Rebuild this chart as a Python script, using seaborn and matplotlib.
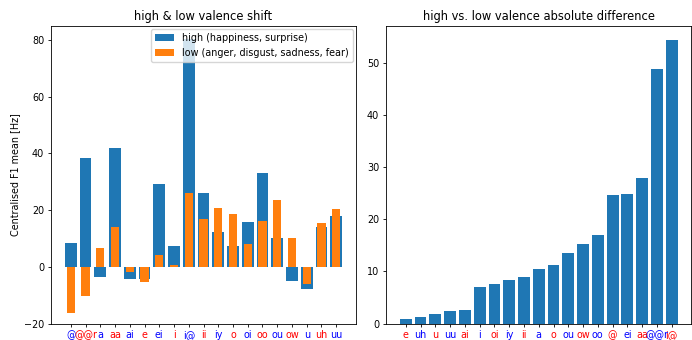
import matplotlib
matplotlib.use("Agg")
import matplotlib.pyplot as plt
import seaborn as sns
import numpy as np
import pandas as pd

vowels = ["@", "@@r", "a", "aa", "ai", "e", "ei", "i", "i@", "ii", "iy",
          "o", "oi", "oo", "ou", "ow", "u", "uh", "uu"]
high = [8.5, 38.3, -3.7, 42.0, -4.4, -4.4, 29.1, 7.5, 80.3, 26.0, 12.4,
        7.2, 15.7, 33.0, 10.0, -5.0, -7.9, 14.0, 18.1]
low = [-16.2, -10.4, 6.8, 14.2, -1.85, -5.3, 4.3, 0.5, 26.0, 17.0, 20.7,
       18.5, 8.2, 16.0, 23.5, 10.2, -6.1, 15.3, 20.5]

high_label = "high (happiness, surprise)"
low_label = "low (anger, disgust, sadness, fear)"

C0 = "#1f77b4"
C1 = "#ff7f0e"
FS = 6.9

df = pd.DataFrame({"vowel": vowels, "high": high, "low": low})
df["absdiff"] = (df["high"] - df["low"]).abs()
df_sorted = df.sort_values("absdiff").reset_index(drop=True)

fig = plt.figure(figsize=(6.92, 3.40), dpi=100)
ax1 = fig.add_axes([51/692, 1-323.5/340, 305/692, (323.5-26)/340])
ax2 = fig.add_axes([386/692, 1-323.5/340, 305.5/692, (323.5-26)/340])

sns.barplot(x="vowel", y="high", data=df, order=vowels, color=C0, saturation=1,
            width=0.8, errorbar=None, label=high_label, ax=ax1)
sns.barplot(x="vowel", y="low", data=df, order=vowels, color=C1, saturation=1,
            width=0.55, errorbar=None, label=low_label, ax=ax1)
ax1.set_xlim(-1.34, len(vowels) - 1 + 1.34)
ax1.set_ylim(-20, 85)
ax1.set_xlabel("")
ax1.set_ylabel("Centralised F1 mean [Hz]", fontsize=FS, labelpad=2.5)
ax1.set_title("high & low valence shift", fontsize=8.3, pad=4)
ax1.legend(loc="upper right", fontsize=FS, borderaxespad=0.35, handlelength=2.0)
for i, t in enumerate(ax1.get_xticklabels()):
    t.set_color("blue" if i % 2 == 0 else "red")

order2 = list(df_sorted["vowel"])
sns.barplot(x="vowel", y="absdiff", data=df_sorted, order=order2, color=C0,
            saturation=1, width=0.8, errorbar=None, ax=ax2)
ax2.set_xlim(-1.34, len(order2) - 1 + 1.34)
ax2.set_ylim(0, df_sorted["absdiff"].max() * 1.05)
ax2.set_xlabel("")
ax2.set_ylabel("")
ax2.set_title("high vs. low valence absolute difference", fontsize=8.3, pad=4)
for i, t in enumerate(ax2.get_xticklabels()):
    t.set_color("red" if i % 2 == 0 else "blue")

for ax in (ax1, ax2):
    ax.tick_params(labelsize=FS, length=2.5, width=0.6, pad=2.4)
    for s in ax.spines.values():
        s.set_visible(True)
        s.set_linewidth(0.6)

fig.savefig("out.png", dpi=100)
